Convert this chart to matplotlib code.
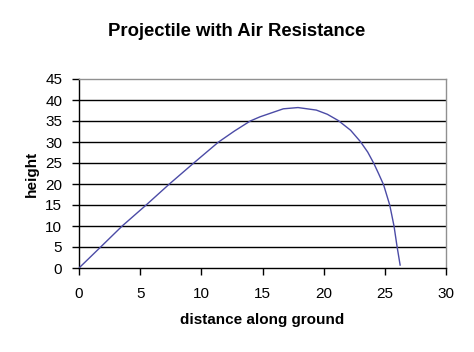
import matplotlib
matplotlib.use("Agg")
import matplotlib.pyplot as plt

# trajectory
distance = [0, 1.77, 3.53, 5.49, 7.39, 9.38, 11.41, 12.7, 14.0, 14.8, 15.6,
            16.7, 17.9, 19.4, 20.3, 21.2, 22.2, 23.0, 23.6, 24.1, 24.5,
            24.9, 25.4, 25.75, 26.0, 26.25]
height = [0, 5, 10, 15, 20, 25, 30, 32.6, 35, 36.0, 36.8,
          37.9, 38.2, 37.6, 36.6, 35.1, 32.8, 30.1, 27.6, 24.9, 22.4,
          19.8, 15, 10, 5.1, 0.7]

x_ticks = [0, 5, 10, 15, 20, 25, 30]
y_ticks = [0, 5, 10, 15, 20, 25, 30, 35, 40, 45]

plt.rcParams['font.family'] = ['Liberation Sans', 'DejaVu Sans']

fig = plt.figure(figsize=(4.74, 3.52), dpi=100)
ax = fig.add_axes([79 / 474, 84 / 352, 367 / 474, 189 / 352])

# horizontal grid lines, Excel style
for y in y_ticks[1:-1]:
    ax.axhline(y, color='black', lw=1, zorder=1)

ax.plot(distance, height, color='#4b4ba6', lw=1.0, zorder=3)

ax.set_xlim(0, 30)
ax.set_ylim(0, 45)
ax.set_xticks(x_ticks)
ax.set_yticks(y_ticks)
ax.tick_params(direction='out', length=5, width=1, labelsize=11,
               colors='black')
ax.tick_params(axis='x', pad=9)
ax.tick_params(axis='y', pad=7)

ax.spines['left'].set_color('black')
ax.spines['bottom'].set_color('black')
ax.spines['top'].set_color('#909090')
ax.spines['right'].set_color('#909090')
for s in ax.spines.values():
    s.set_linewidth(1)

ax.set_xlabel("distance along ground", fontsize=11, fontweight='bold',
              labelpad=8)
ax.set_ylabel("height", fontsize=11, fontweight='bold', labelpad=5)
fig.text(237 / 474, 1 - 32 / 352, "Projectile with Air Resistance",
         ha='center', va='center', fontsize=13.3, fontweight='bold')

fig.savefig("out.png", dpi=100)
